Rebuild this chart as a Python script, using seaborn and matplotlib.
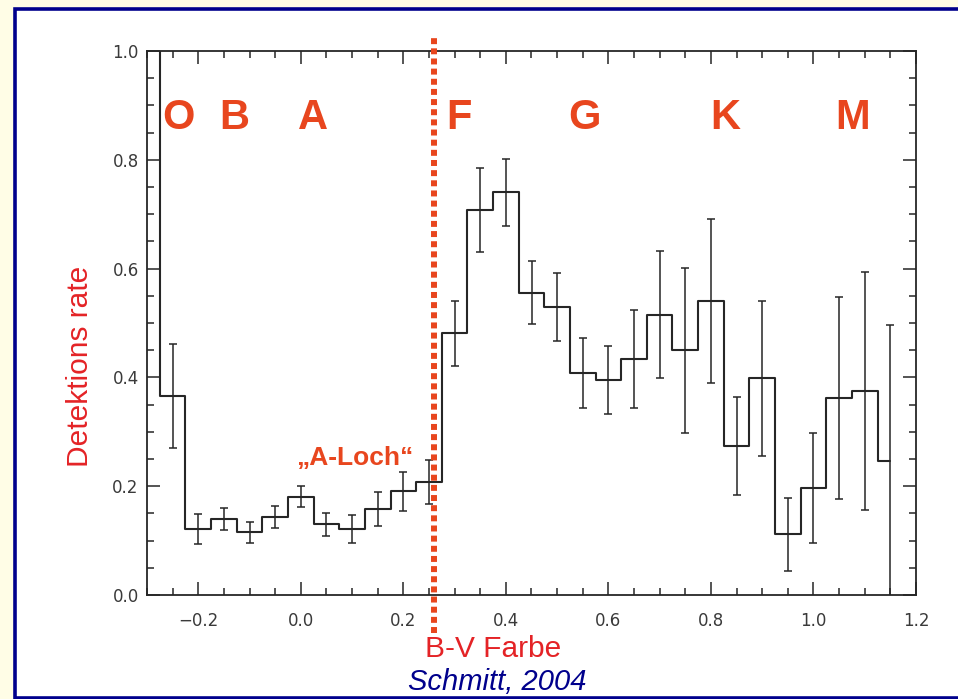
import numpy as np
import pandas as pd
import matplotlib
matplotlib.use("Agg")
import matplotlib.pyplot as plt
from matplotlib.patches import Rectangle
import seaborn as sns

# ---- data ----
bv_color = [-0.30, -0.25, -0.20, -0.15, -0.10, -0.05, 0.00, 0.05, 0.10, 0.15,
            0.20, 0.25, 0.30, 0.35, 0.40, 0.45, 0.50, 0.55, 0.60, 0.65,
            0.70, 0.75, 0.80, 0.85, 0.90, 0.95, 1.00, 1.05, 1.10, 1.15]
detection_rate = [1.05, 0.366, 0.121, 0.140, 0.115, 0.143, 0.181, 0.130, 0.121, 0.158,
                  0.191, 0.208, 0.481, 0.708, 0.740, 0.556, 0.529, 0.408, 0.395, 0.434,
                  0.515, 0.450, 0.541, 0.274, 0.398, 0.112, 0.196, 0.362, 0.375, 0.247]
rate_error = [np.nan, 0.095, 0.027, 0.020, 0.019, 0.020, 0.020, 0.021, 0.026, 0.032,
              0.036, 0.040, 0.060, 0.077, 0.062, 0.058, 0.062, 0.065, 0.062, 0.090,
              0.117, 0.152, 0.151, 0.090, 0.143, 0.067, 0.101, 0.185, 0.219, 0.250]

spectral_classes = ["O", "B", "A", "F", "G", "K", "M"]
class_label_bv = [-0.239, -0.130, 0.023, 0.309, 0.554, 0.827, 1.076]
a_gap_edge = 0.26
a_gap_label = "\u201eA-Loch\u201c"

x_ticks = [-0.2, 0.0, 0.2, 0.4, 0.6, 0.8, 1.0, 1.2]
y_ticks = [0.0, 0.2, 0.4, 0.6, 0.8, 1.0]

df = pd.DataFrame({"bv": bv_color, "rate": detection_rate, "err": rate_error})

# ---- style ----
sns.set_style("ticks")
plt.rcParams["font.family"] = ["Liberation Sans", "DejaVu Sans"]

RED_LETTER = "#E8461E"
RED_LABEL = "#E42326"
NAVY = "#00008C"
INK = "#262626"

fig = plt.figure(figsize=(9.58, 6.99), dpi=100, facecolor="#FFFDE6")
ax = fig.add_axes([147 / 958, 1 - 595 / 699, (916 - 147) / 958, (595 - 51) / 699])
ax.set_facecolor("white")

# frame around the slide area
fig.add_artist(Rectangle((15.5 / 958, 1.5 / 699), 1.2, (697.5 - 8.5) / 699,
                         transform=fig.transFigure, facecolor="white",
                         edgecolor=NAVY, linewidth=2.6, zorder=-10))

# step histogram
sns.lineplot(data=df, x="bv", y="rate", drawstyle="steps-mid", color=INK,
             linewidth=1.5, estimator=None, sort=False, ax=ax, zorder=3)
eb = df.dropna()
ax.errorbar(eb["bv"], eb["rate"], yerr=eb["err"], fmt="none", ecolor=INK,
            elinewidth=1.1, capsize=3, capthick=1.1, zorder=3)

# A-gap boundary
ax.axvline(a_gap_edge, ymin=-0.07, ymax=1.03, color=RED_LETTER, linewidth=4.3,
           linestyle=(0, (1.0, 0.7)), dash_capstyle="butt", clip_on=False, zorder=4)

# spectral class letters
for lab, xb in zip(spectral_classes, class_label_bv):
    ax.text(xb, 0.857, lab, color=RED_LETTER, fontsize=30, fontweight="bold",
            ha="center", va="baseline")
ax.text(0.105, 0.239, a_gap_label, color=RED_LETTER, fontsize=19,
        fontweight="bold", ha="center", va="baseline")

# axes
ax.set_xlim(-0.3, 1.2)
ax.set_ylim(0.0, 1.0)
ax.set_xticks(x_ticks)
ax.set_yticks(y_ticks)
ax.set_xticks(np.arange(-0.3, 1.2001, 0.05), minor=True)
ax.set_yticks(np.arange(0.0, 1.0001, 0.05), minor=True)
ax.set_xticklabels([f"{v:.1f}".replace("-", "\u2212") for v in x_ticks])
ax.set_yticklabels([f"{v:.1f}" for v in y_ticks])
ax.tick_params(which="both", direction="in", top=True, right=True,
               colors=INK, labelcolor="#3a3a3a", width=1.1)
ax.tick_params(which="major", length=9.5, labelsize=12)
ax.tick_params(axis="x", which="major", pad=12)
ax.tick_params(axis="y", which="major", pad=6)
ax.tick_params(which="minor", length=5)
for s in ax.spines.values():
    s.set_visible(True)
    s.set_color(INK)
    s.set_linewidth(1.3)
for t in ax.get_xticklabels() + ax.get_yticklabels():
    t.set_family(["DejaVu Sans"])

ax.set_xlabel("B-V Farbe", color=RED_LABEL, fontsize=21.5)
ax.xaxis.label.set_va("center")
ax.xaxis.set_label_coords((493 - 147) / 769, (595 - 649) / 544)
ax.set_ylabel("Detektions rate", color=RED_LABEL, fontsize=21.5)
ax.yaxis.label.set_va("center")
ax.yaxis.set_label_coords((80 - 147) / 769, (595 - 366) / 544)

fig.text(497 / 958, 1 - 682 / 699, "Schmitt, 2004", color=NAVY, fontsize=21,
         fontstyle="italic", ha="center", va="center")

fig.savefig("out.png", dpi=100, facecolor=fig.get_facecolor())
